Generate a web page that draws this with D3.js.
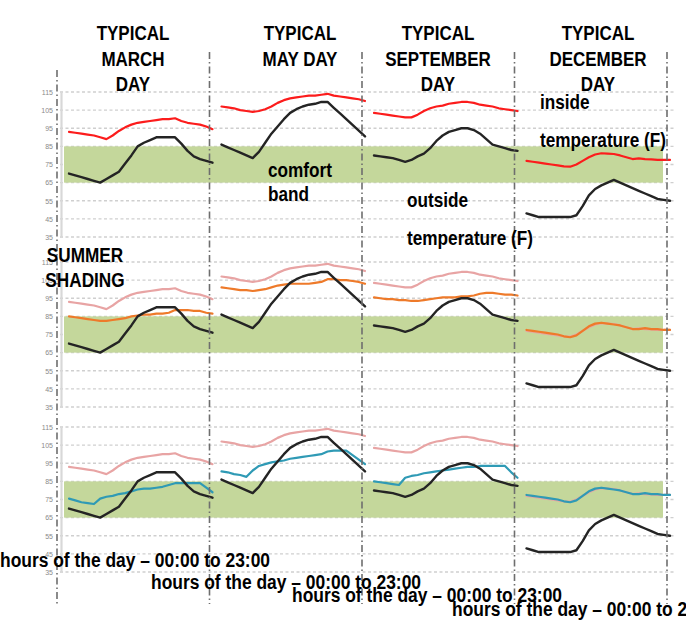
<!DOCTYPE html>
<html><head><meta charset="utf-8">
<script src="https://cdn.jsdelivr.net/npm/d3@7"></script>
<style>
body{margin:0;background:#fff;}
svg{display:block;}
.lbl{font-family:'Liberation Sans Narrow','Arial Narrow','Liberation Sans',Arial,sans-serif;font-weight:bold;fill:#000;}
.tick{font-family:'Liberation Sans',Arial,sans-serif;font-size:7px;fill:#8a8a8a;}
</style></head><body>
<svg id="c" width="686" height="625"></svg>
<script>
// ---------- data ----------
const hours = [0,1,2,3,4,5,6,7,8,9,10,11,12,13,14,15,16,17,18,19,20,21,22,23];
const columns = ["MARCH","MAY","SEPTEMBER","DECEMBER"];
const titleLines = [["TYPICAL","MARCH","DAY"],["TYPICAL","MAY DAY"],["TYPICAL","SEPTEMBER","DAY"],["TYPICAL","DECEMBER","DAY"]];
const tickValues = [115,105,95,85,75,65,55,45,35];
const comfortBand = [65,85];

const outsideMarch = [70,69,68,67,66,65,67,69,71,75.5,80,85,87,88.5,90,90,90,90,86.5,82.5,79.5,78,77,76];
const outsideMay   = [86,84.5,83,81.5,80,78.5,82,87,92,96,100,103.5,105.5,107,108,108.5,109.5,109.5,106.3,103.2,100,96.8,93.7,90.5];
const outsideSep   = [80,79.5,79,78.5,77.5,76.5,77.5,79.5,81,84,88,91,93,94,95,95,94,92,89,86,85,84,83,82.5];
const outsideDec   = [48,47,46,46,46,46,46,46,47,52,58,61.5,63.5,65,66.5,65,63.5,62,60.5,59,57.5,56,55.5,55];

const insideMarch = [93,92.5,92,91.5,91,90,89,91,93.5,95.5,97,98,98.5,99,99.5,100,100,100.5,99,98,97.5,97,96,94.5];
const insideMay   = [107,106.5,106,105,104.5,104,104.5,105.5,107,109,110.5,111.5,112,112.5,113,113,113.5,114,113,112.5,112,111.5,111,110];
const insideSep   = [103.5,103,102.5,102,101.5,101,101,102.5,104.5,106,107,107.5,108.5,109,109.5,109.5,109,108,107.5,107,106,105.5,105,104.5];
const insideDec   = [77,76.5,76,75.5,75,74.5,74,73.8,75,77,79,80.5,81.2,81,80.8,80,79,78,78.4,78,77.8,77.5,77.5,77.5];

const shadedMarch = [85,84.5,84,83.5,83,82.5,82.5,83,83.5,84,85,85.5,86,86,86.5,86.5,87,88.5,88.5,88.5,88,88,87,86.5];
const shadedMay   = [101,100.5,100,99.5,99.5,99,99.5,100,101,102,102.5,103,103,103,103,103.5,104,105.5,105.5,105,105,104.5,104,103];
const shadedSep   = [95.5,95,94.5,94.5,94,94,93.5,93.5,94,94.5,95,95.5,95.5,95.5,96,96,96.5,97.5,98,98,97.5,97,97,96.5];
const shadedDec   = [77.5,77,76.5,76,75.5,75,74,73.5,74.5,77,79.5,81,81.5,81,80.5,80,79,78,78,78.5,78,78,77.5,77.5];

const ventMarch = [75.5,74.5,73.5,73,72.5,75.5,76.5,77,78,78.5,79.5,80.5,81,81,81.5,82,83,84,84,84,84,84,81.5,79];
const ventMay   = [90.5,90,89,88.5,87.5,91,93.5,94.5,95.5,96,96.5,97.5,98,98.5,99,99.5,100,101.5,102,102,102,99.5,97,94.5];
const ventSep   = [85,84.5,84,83.5,83,87,88,88.5,89.5,90,90.5,91,91.5,92,92.5,93,93,93.5,93.5,93.5,93.5,93.5,90,87];
const ventDec   = [77.5,77,76.5,76,75.5,75,74,73.5,74.5,77,79.5,81,81.5,81,80.5,80,79,78,78,78.5,78,78,77.5,77.5];

const outsideAll = [outsideMarch,outsideMay,outsideSep,outsideDec];
const insideAll  = [insideMarch,insideMay,insideSep,insideDec];
const shadedAll  = [shadedMarch,shadedMay,shadedSep,shadedDec];
const ventAll    = [ventMarch,ventMay,ventSep,ventDec];

const annotationTexts = ["comfort","band","outside","temperature (F)","inside","temperature (F)","SUMMER","SHADING"];
const xLabel = "hours of the day \u2013 00:00 to 23:00";

// ---------- layout (positions, not data) ----------
const annotationPos = [
  {x:268,y:177},{x:268,y:201},
  {x:407,y:207},{x:407,y:245},
  {x:540,y:109},{x:540,y:147},
  {x:85,y:262,a:"middle"},{x:85,y:287,a:"middle"}
];
const titleCenters = [133,300,438,598];
const xLabelPos = [{x:0,y:567},{x:151,y:589},{x:292,y:602},{x:452,y:616}];

const svg = d3.select("#c");
const col = d3.scaleLinear().domain([0,4]).range([57,667]);
const rowTops = [92,262,427];
const rowScales = rowTops.map(t => d3.scaleLinear().domain([35,115]).range([t+145,t]));
const xFor = i => d3.scaleLinear().domain([0,23]).range([col(i)+12, col(i+1)+3]);

const COL = {red:"#fc1c1c", pink:"#e8a4a4", orange:"#ee7a2a", teal:"#2f9ab5", black:"#242424", green:"#c4d79b", grid:"#cfcfcf", sep:"#6e6e6e"};

rowScales.forEach((y,r) => {
  const g = svg.append("g");
  g.selectAll("line.grid").data(tickValues).join("line")
    .attr("x1",60).attr("x2",676)
    .attr("y1",d=>y(d)).attr("y2",d=>y(d))
    .attr("stroke",COL.grid).attr("stroke-width",1.3).attr("stroke-dasharray","3,2.5");
  g.append("rect").attr("x",64).attr("width",663-64)
    .attr("y",y(comfortBand[1])).attr("height",y(comfortBand[0])-y(comfortBand[1]))
    .attr("fill",COL.green);
  const ax = g.append("g").attr("transform","translate(61,0)")
    .call(d3.axisLeft(y).tickValues(tickValues).tickSize(0).tickPadding(8));
  ax.select(".domain").attr("stroke","#d8d8d8").attr("stroke-width",2.2);
  ax.selectAll("text").attr("class","tick").attr("font-size",null).attr("font-family",null).attr("fill",null);

  columns.forEach((c,i) => {
    const x = xFor(i);
    const line = d3.line().x((d,k)=>x(hours[k])).y(d=>y(d));
    const series = [];
    series.push({v:insideAll[i], c: r===0 ? COL.red : COL.pink});
    if (r===1) series.push({v:shadedAll[i], c:COL.orange});
    if (r===2) series.push({v:ventAll[i], c:COL.teal});
    series.push({v:outsideAll[i], c:COL.black});
    g.selectAll(null).data(series).join("path")
      .attr("d",d=>line(d.v)).attr("fill","none")
      .attr("stroke",d=>d.c).attr("stroke-width",d=>d.c===COL.black?2.4:2.2)
      .attr("stroke-linejoin","round").attr("stroke-linecap","round");
  });
});

// separators
svg.selectAll("line.sep").data([0,1,2,3,4]).join("line")
  .attr("x1",d=>col(d)).attr("x2",d=>col(d))
  .attr("y1",d=>d===0?70:52).attr("y2",604)
  .attr("stroke",COL.sep).attr("stroke-width",1.6).attr("stroke-dasharray","7,3,1.5,3");

// condensed bold text helper
function label(t, x, y, size, sx, anchor){
  svg.append("text").attr("class","lbl")
    .attr("transform",`translate(${x},${y}) scale(${sx},1)`)
    .attr("text-anchor",anchor||"start").attr("font-size",size).text(t);
}

titleLines.forEach((lines,i) => {
  lines.forEach((t,k) => label(t, titleCenters[i], 40+k*25.5, 20, 0.85, "middle"));
});
annotationTexts.forEach((t,k) => label(t, annotationPos[k].x, annotationPos[k].y, 20, 0.86, annotationPos[k].a));
xLabelPos.forEach(d => label(xLabel, d.x, d.y, 21, 0.83));
</script>
</body></html>
